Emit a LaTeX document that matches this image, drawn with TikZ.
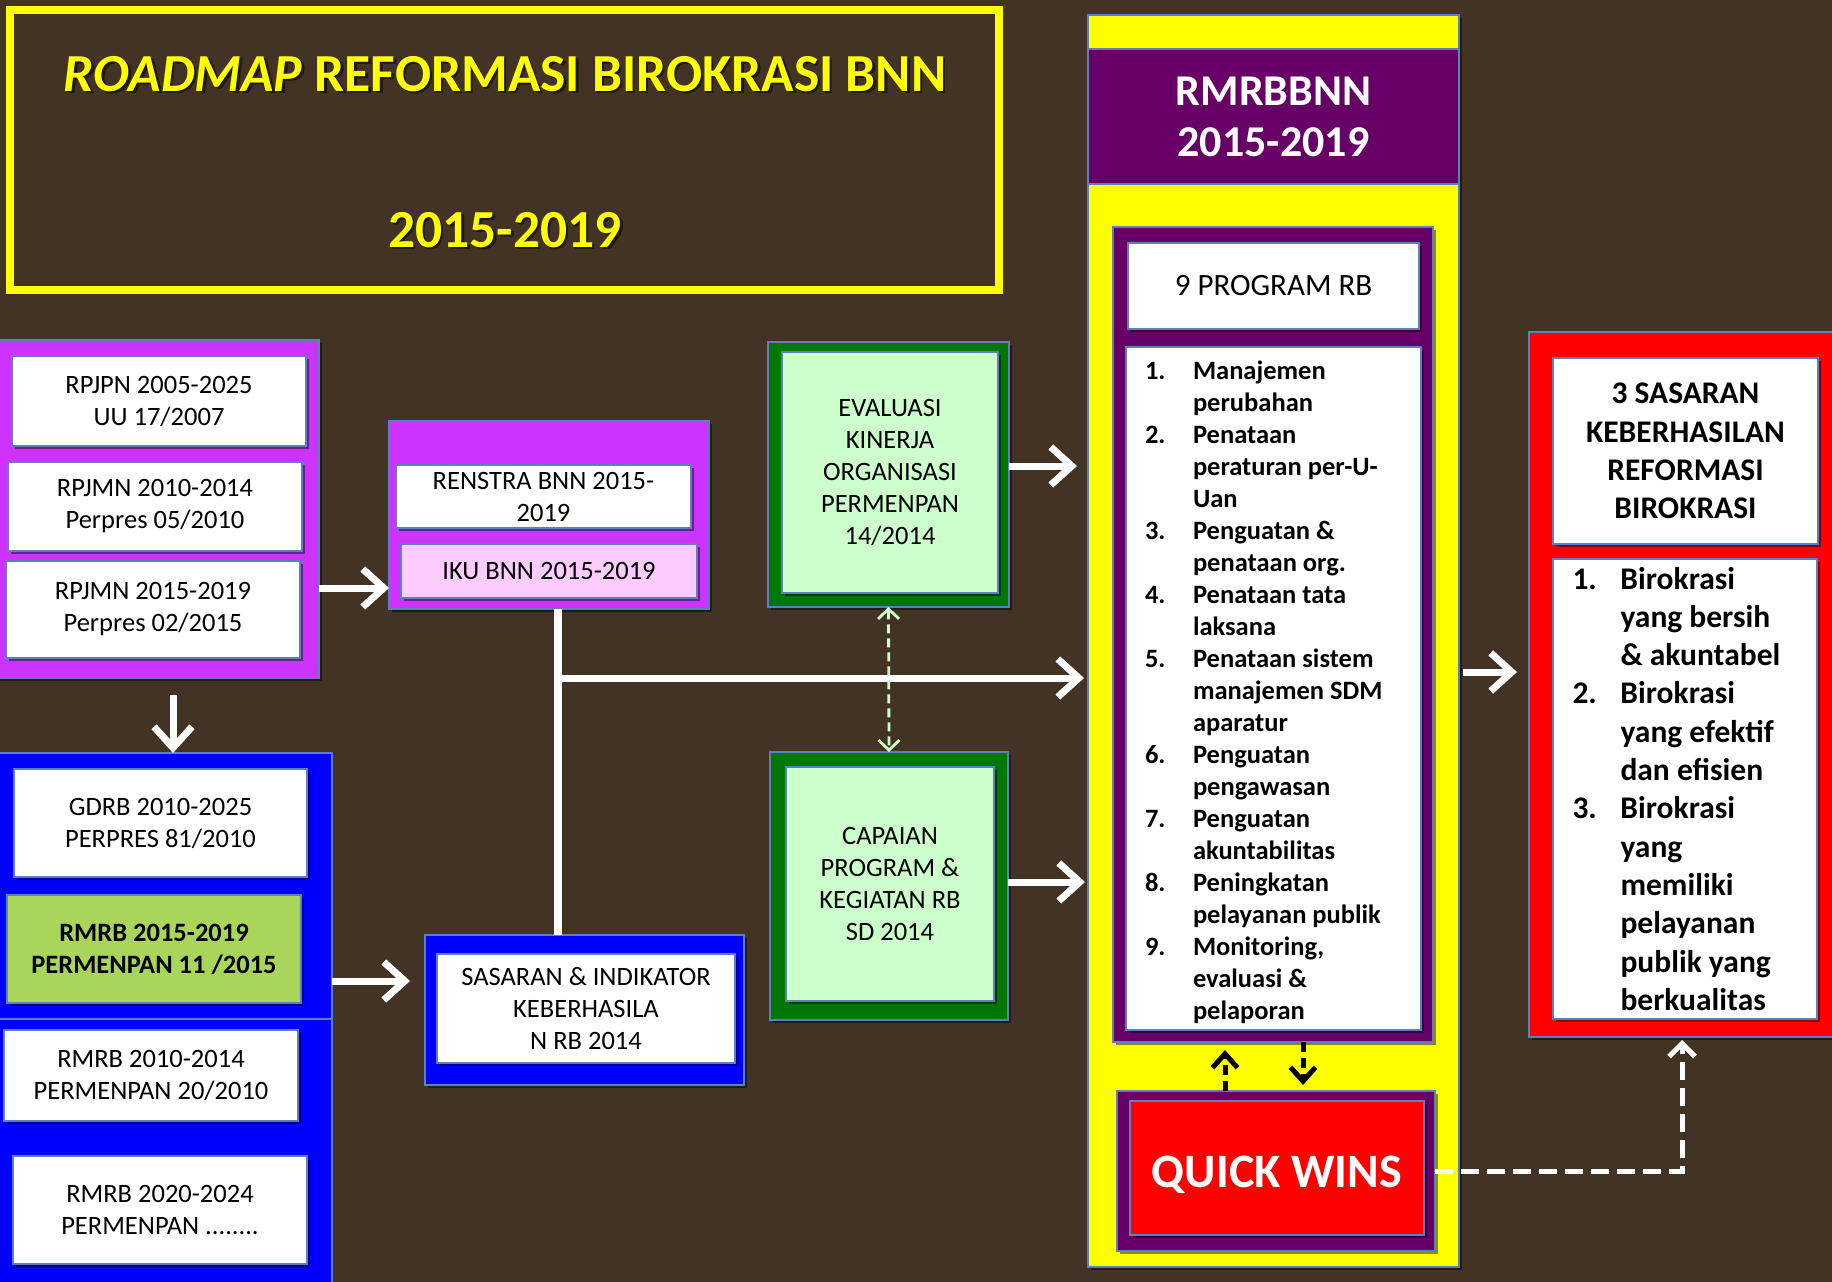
\documentclass[tikz,border=0pt]{standalone}
\usepackage{fontspec}
\setmainfont{Carlito}
\usetikzlibrary{arrows.meta,shadows}
\definecolor{bgbrown}{HTML}{433324}
\definecolor{edgeblue}{HTML}{5B7FBF}
\definecolor{violetgrp}{HTML}{CC33FF}
\definecolor{pinkbox}{HTML}{FFCCFF}
\definecolor{bluegrp}{HTML}{0000FF}
\definecolor{limebox}{HTML}{A8D55A}
\definecolor{darkgreen}{HTML}{007800}
\definecolor{mint}{HTML}{CCFFCC}
\definecolor{plum}{HTML}{660066}
\definecolor{redbox}{HTML}{FF0000}
\definecolor{ybright}{HTML}{FFFF00}
\begin{document}
\begin{tikzpicture}[x=1pt,y=-1pt,
  every node/.style={inner sep=0pt,outer sep=0pt},
  grp/.style={rectangle,draw=edgeblue,line width=1.2pt},
  shad/.style={drop shadow={shadow xshift=2.5pt,shadow yshift=-3pt,opacity=.45,fill=black}},
  txtbox/.style={rectangle,draw=edgeblue,line width=1.2pt,align=center,font=\fontsize{26.5}{32}\selectfont,shad},
  titlefont/.style={font=\bfseries\fontsize{53.5}{60}\selectfont,anchor=base},
  warrow/.style={draw=white,line width=7pt,-{Straight Barb[length=21pt,width=38pt]}},
  wline/.style={draw=white,line width=8pt},
  bdash/.style={draw=black,line width=5pt,dash pattern=on 10pt off 6pt,-{Straight Barb[length=14pt,width=25pt]}},
  wdash/.style={draw=white,line width=5pt,dash pattern=on 18pt off 8pt,-{Straight Barb[length=13pt,width=26pt]}},
  gdash/.style={draw=mint,line width=2.8pt,dash pattern=on 9pt off 5pt,{Straight Barb[length=10pt,width=21pt]}-{Straight Barb[length=10pt,width=21pt]}}
]
\useasboundingbox (0,0) rectangle (1832,1282);
\fill[bgbrown] (0,0) rectangle (1832,1282);

% ---------- title ----------
\node[draw=ybright,line width=8pt,minimum width=989,minimum height=280] (titlebox) at (504.5,150) {};
\node[titlefont,text=black,opacity=.55] (titleshadowA) at (507.5,93.5) {\textit{ROADMAP} REFORMASI BIROKRASI BNN};
\node[titlefont,text=ybright] (titleA) at (505,91) {\textit{ROADMAP} REFORMASI BIROKRASI BNN};
\node[titlefont,text=black,opacity=.55] (titleshadowB) at (507.5,249.5) {2015-2019};
\node[titlefont,text=ybright] (titleB) at (505,247) {2015-2019};

% ---------- left violet group ----------
\node[grp,fill=violetgrp,minimum width=323,minimum height=338,shad] (rpgrp) at (157.5,509) {};
\node[txtbox,fill=white,minimum width=294,minimum height=90] (rpjpn) at (159,401) {RPJPN 2005-2025\\UU 17/2007};
\node[txtbox,fill=white,minimum width=294,minimum height=89] (rpjmnA) at (155,506.5) {RPJMN 2010-2014\\Perpres 05/2010};
\node[txtbox,fill=white,minimum width=294,minimum height=97] (rpjmnB) at (153,609.5) {RPJMN 2015-2019\\Perpres 02/2015};

% ---------- renstra group ----------
\node[grp,fill=violetgrp,minimum width=320,minimum height=188,shad] (rengrp) at (549,515) {};
\node[txtbox,fill=white,minimum width=295,minimum height=63] (renstra) at (543.5,496.5) {RENSTRA BNN 2015-\\2019};
\node[txtbox,fill=pinkbox,minimum width=296,minimum height=54] (iku) at (549,571) {IKU BNN 2015-2019};

% ---------- left blue groups ----------
\node[grp,fill=bluegrp,minimum width=336,minimum height=266] (bluegrpA) at (164,886) {};
\node[grp,fill=bluegrp,minimum width=336,minimum height=281] (bluegrpB) at (164,1159.5) {};
\node[txtbox,fill=white,minimum width=293,minimum height=108] (gdrb) at (160.5,823) {GDRB 2010-2025\\PERPRES 81/2010};
\node[txtbox,fill=limebox,minimum width=294,minimum height=108,font=\bfseries\fontsize{26.5}{32}\selectfont] (rmrbA) at (154,949) {RMRB 2015-2019\\PERMENPAN 11 /2015};
\node[txtbox,fill=white,minimum width=294,minimum height=91] (rmrbB) at (151,1075.5) {RMRB 2010-2014\\PERMENPAN 20/2010};
\node[txtbox,fill=white,minimum width=294,minimum height=108] (rmrbC) at (160,1210) {RMRB 2020-2024\\PERMENPAN ........};

% ---------- sasaran ----------
\node[grp,fill=bluegrp,minimum width=319,minimum height=150,shad] (sasgrp) at (584.5,1010) {};
\node[txtbox,fill=white,minimum width=298,minimum height=109] (sasbox) at (586,1008.5) {SASARAN \& INDIKATOR\\KEBERHASILA\\N RB 2014};

% ---------- evaluasi / capaian ----------
\node[grp,fill=darkgreen,minimum width=241,minimum height=265,shad] (evalout) at (888.5,474.5) {};
\node[txtbox,fill=mint,minimum width=216,minimum height=241] (evalin) at (890,472.5) {EVALUASI\\KINERJA\\ORGANISASI\\PERMENPAN\\14/2014};
\node[grp,fill=darkgreen,minimum width=238,minimum height=268,shad] (capout) at (889,886) {};
\node[txtbox,fill=mint,minimum width=208,minimum height=234] (capin) at (890,884) {CAPAIAN\\PROGRAM \&\\KEGIATAN RB\\SD 2014};

% ---------- yellow column ----------
\node[grp,fill=ybright,minimum width=371,minimum height=1252,shad] (ycol) at (1273.5,641) {};
\node[grp,fill=plum,minimum width=371,minimum height=135,text=white,align=center,font=\bfseries\fontsize{44}{51}\selectfont] (rmhead) at (1273.5,116.5) {RMRBBNN\\2015-2019};
\node[grp,fill=plum,minimum width=320,minimum height=815,shad] (progout) at (1273,634.5) {};
\node[txtbox,fill=white,minimum width=291,minimum height=86,font=\fontsize{31}{37}\selectfont] (proghead) at (1273.5,286) {9 PROGRAM RB};
\node[txtbox,fill=white,minimum width=295,minimum height=683] (proglist) at (1273.5,688.5) {};
\node[anchor=base west,font=\bfseries\fontsize{26.5}{32}\selectfont] (proglisttext) at (1145,379.5) {\begin{tabular}[t]{@{}p{48pt}@{}l@{}}1.&Manajemen\\&perubahan\\2.&Penataan\\&peraturan per-U-\\&Uan\\3.&Penguatan \&\\&penataan org.\\4.&Penataan tata\\&laksana\\5.&Penataan sistem\\&manajemen SDM\\&aparatur\\6.&Penguatan\\&pengawasan\\7.&Penguatan\\&akuntabilitas\\8.&Peningkatan\\&pelayanan publik\\9.&Monitoring,\\&evaluasi \&\\&pelaporan\end{tabular}};
\node[grp,fill=plum,minimum width=318,minimum height=160,shad] (qwout) at (1276,1171) {};
\node[grp,fill=redbox,minimum width=294,minimum height=134,shad] (qwin) at (1277,1168) {};
\node[anchor=base,text=white,font=\bfseries\fontsize{48}{56}\selectfont] (qwtext) at (1277,1187.5) {QUICK WINS};

% ---------- red group ----------
\node[grp,fill=redbox,minimum width=311,minimum height=705,shad] (redout) at (1684.5,684.5) {};
\node[txtbox,fill=white,minimum width=265,minimum height=186,font=\bfseries\fontsize{31.5}{38.3}\selectfont] (redhead) at (1685.5,451) {3 SASARAN\\KEBERHASILAN\\REFORMASI\\BIROKRASI};
\node[txtbox,fill=white,minimum width=264,minimum height=460] (redlist) at (1685,789) {};
\node[anchor=base west,font=\bfseries\fontsize{31.5}{38.3}\selectfont] (redlisttext) at (1572.5,589) {\begin{tabular}[t]{@{}p{48pt}@{}l@{}}1.&Birokrasi\\&yang bersih\\&\& akuntabel\\2.&Birokrasi\\&yang efektif\\&dan efisien\\3.&Birokrasi\\&yang\\&memiliki\\&pelayanan\\&publik yang\\&berkualitas\end{tabular}};

% ---------- connectors ----------
\coordinate (yA) at (319,588);
\draw[warrow] (rpgrp.east |- yA) -- (rengrp.west |- yA);
\coordinate (dA) at (173,695);
\draw[warrow] (dA) -- (bluegrpA.north -| dA);
\coordinate (yB) at (332,981);
\draw[warrow,shorten >=15pt] (bluegrpA.east |- yB) -- (sasgrp.west |- yB);
\coordinate (branch) at (558,678);
\draw[wline] (rengrp.south -| branch) -- (sasgrp.north -| branch);
\draw[warrow,shorten >=4pt] ([xshift=-4pt]branch) -- (ycol.west |- branch);
\coordinate (yE) at (1009,466);
\draw[warrow,shorten >=11pt] (evalout.east |- yE) -- (ycol.west |- yE);
\coordinate (yC) at (1008,882);
\draw[warrow,shorten >=3pt] (capout.east |- yC) -- (ycol.west |- yC);
\draw[gdash] (evalout.south) -- (capout.north);
\coordinate (yR) at (1459,672);
\draw[warrow,shorten <=4pt,shorten >=12pt] (ycol.east |- yR) -- (redout.west |- yR);
\coordinate (xU) at (1225,1091);
\coordinate (xD) at (1303,1043);
\draw[bdash,shorten >=8pt] (qwout.north -| xU) -- (progout.south -| xU);
\draw[bdash,shorten >=6pt] (progout.south -| xD) -- (qwout.north -| xD);
\coordinate (qcorner) at (1682,1171);
\draw[wdash,shorten >=3pt] (qwout.east) -- (qcorner) -- (redout.south -| qcorner);
\end{tikzpicture}
\end{document}
